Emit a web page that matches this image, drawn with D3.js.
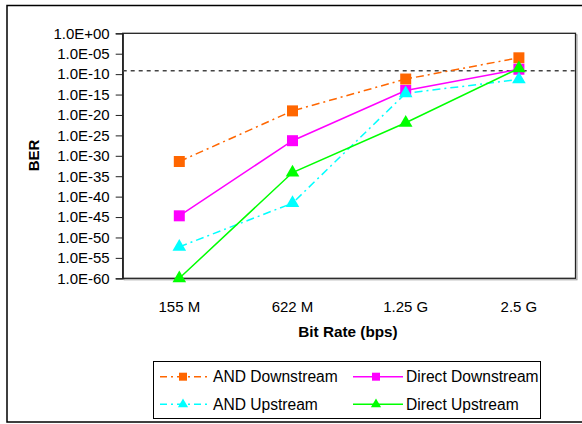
<!DOCTYPE html>
<html><head><meta charset="utf-8">
<script src="https://cdn.jsdelivr.net/npm/d3@7"></script>
<style>body{margin:0;background:#fff}svg{display:block;font-family:"Liberation Sans",Arial,sans-serif}</style>
</head><body><svg id="c" width="582" height="424"></svg>
<script>
const categories = ["155 M", "622 M", "1.25 G", "2.5 G"];
// log10(BER) values
const andDownstream = [-31.4, -19.0, -11.2, -6.0];
const directDownstream = [-44.7, -26.3, -14.0, -8.8];
const andUpstream = [-52.3, -41.6, -14.7, -11.3];
const directUpstream = [-60.0, -34.1, -21.9, -8.6];
const thresholdExp = -9.2;
const yTickExps = [0,-5,-10,-15,-20,-25,-30,-35,-40,-45,-50,-55,-60];

const series = [
  {name:"AND Downstream", values:andDownstream, color:"#FF6600", dash:"8,4,2,4", marker:"square"},
  {name:"Direct Downstream", values:directDownstream, color:"#FF00FF", dash:null, marker:"square"},
  {name:"AND Upstream", values:andUpstream, color:"#00FFFF", dash:"8,4,2,4", marker:"triangle"},
  {name:"Direct Upstream", values:directUpstream, color:"#00FF00", dash:null, marker:"triangle"}
];

const svg = d3.select("#c");
const L=122.7, R=575.5, T=33.3, B=278.3;
// outer border
svg.append("rect").attr("x",7).attr("y",5.5).attr("width",590).attr("height",416.5)
  .attr("fill","none").attr("stroke","#000").attr("stroke-width",1.5);

const x = d3.scaleBand().domain(categories).range([L,R]);
const y = d3.scaleLinear().domain([-60,0]).range([B,T]);

// plot area shadow + frame
svg.append("rect").attr("x",L+1.5).attr("y",T+1.5).attr("width",R-L).attr("height",B-T)
  .attr("fill","none").attr("stroke","#999").attr("stroke-width",1);
svg.append("rect").attr("x",L).attr("y",T).attr("width",R-L).attr("height",B-T)
  .attr("fill","#fff").attr("stroke","#222").attr("stroke-width",1.3);

const fmt = e => "1.0E" + (e>=0 ? "+" : "-") + String(Math.abs(e)).padStart(2,"0");
const yAxis = d3.axisLeft(y).tickValues(yTickExps).tickFormat(fmt).tickSize(7).tickPadding(6);
const gy = svg.append("g").attr("transform",`translate(${L},0)`).call(yAxis);
gy.select(".domain").attr("stroke","#222").attr("stroke-width",1.3);
gy.selectAll(".tick line").attr("stroke","#222");
gy.selectAll("text").attr("font-size",15).attr("font-family","Liberation Sans, Arial").attr("fill","#000");

const xAxis = d3.axisBottom(x).tickSize(0).tickPadding(23);
const gx = svg.append("g").attr("transform",`translate(0,${B})`).call(xAxis);
gx.select(".domain").remove();
gx.selectAll("text").attr("font-size",15).attr("font-family","Liberation Sans, Arial").attr("fill","#000");

// threshold dashed line
svg.append("line").attr("x1",L).attr("x2",R).attr("y1",y(thresholdExp)).attr("y2",y(thresholdExp))
  .attr("stroke","#444").attr("stroke-width",1.5).attr("stroke-dasharray","4,4");

const cx = c => x(c) + x.bandwidth()/2;
const line = d3.line().x((d,i)=>cx(categories[i])).y(d=>y(d));
const sq = d3.symbol().type(d3.symbolSquare).size(121);
const tri = d3.symbol().type(d3.symbolTriangle).size(80);

series.forEach(s=>{
  svg.append("path").datum(s.values).attr("d",line).attr("fill","none")
    .attr("stroke",s.color).attr("stroke-width",1.5)
    .attr("stroke-dasharray",s.dash);
});
series.forEach(s=>{
  svg.selectAll(null).data(s.values).enter().append("path")
    .attr("transform",(d,i)=>`translate(${cx(categories[i])},${y(d)})`)
    .attr("d", s.marker==="square"?sq:tri).attr("fill",s.color);
});

// axis titles
svg.append("text").attr("x",348).attr("y",337).attr("text-anchor","middle")
  .attr("font-size",15.3).attr("font-weight","bold").text("Bit Rate (bps)");
svg.append("text").attr("transform","translate(39,155.5) rotate(-90)").attr("text-anchor","middle")
  .attr("font-size",15).attr("font-weight","bold").text("BER");

// legend
const lg = svg.append("g");
lg.append("rect").attr("x",153.5).attr("y",361.5).attr("width",387).attr("height",57)
  .attr("fill","#fff").attr("stroke","#000").attr("stroke-width",1);
const pos = [[160,376.7],[353,376.7],[160,404.3],[353,404.3]];
series.forEach((s,i)=>{
  const [lx,ly]=pos[i];
  lg.append("line").attr("x1",lx).attr("x2",lx+50).attr("y1",ly).attr("y2",ly)
    .attr("stroke",s.color).attr("stroke-width",1.5).attr("stroke-dasharray",s.dash?"7,4,2,4":null);
  lg.append("path").attr("transform",`translate(${lx+23},${ly})`)
    .attr("d", s.marker==="square"?d3.symbol().type(d3.symbolSquare).size(64)():d3.symbol().type(d3.symbolTriangle).size(45)())
    .attr("fill",s.color);
  lg.append("text").attr("x",lx+53).attr("y",ly+5.3).attr("font-size",15.6).text(s.name);
});
</script></body></html>
